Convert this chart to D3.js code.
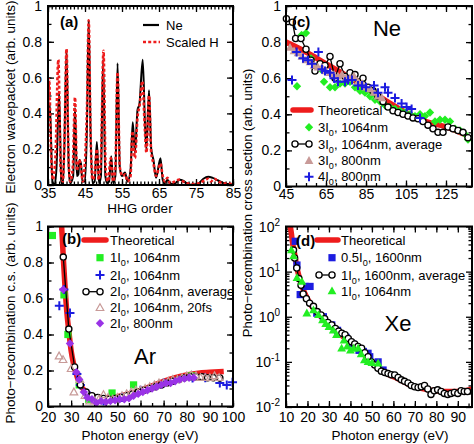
<!DOCTYPE html>
<html><head><meta charset="utf-8">
<script src="https://cdn.jsdelivr.net/npm/d3@7"></script>
<style>body{margin:0;background:#fff}</style>
</head><body>
<svg id="c" width="474" height="444"></svg>
<script>
// ---------------- DATA ----------------
// Panel (a): electron wavepacket vs HHG order
const aNe = [[35,0.35],[35.5,0.45],[36.2,0.02],[36.8,0.0],[37.3,0.1],[38,0.52],[38.6,0.02],[39,0.0],[39.4,0.2],[40,0.75],[40.6,0.1],[41,0.01],[41.8,0.05],[42.3,0.43],[42.8,0.05],[43.2,0.06],[43.5,0.14],[43.9,0.12],[44.3,0.02],[45,0.02],[45.5,0.3],[46,0.92],[46.5,0.3],[47,0.01],[47.6,0.02],[48.2,0.24],[48.8,0.01],[49.3,0.05],[49.9,0.70],[50.5,0.05],[51,0.01],[51.5,0.02],[52.1,0.16],[52.6,0.01],[53.2,0.05],[53.8,0.68],[54.4,0.1],[55,0.05],[55.8,0.07],[56.5,0.02],[57.3,0.08],[57.9,0.35],[58.5,0.18],[59.2,0.42],[59.7,0.45],[60.6,0.70],[61.2,0.35],[61.6,0.2],[62.3,0.53],[62.9,0.2],[63.5,0.14],[64.2,0.04],[65.4,0.15],[66,0.03],[66.6,0.01],[67.3,0.03],[68,0.005],[69,0.005],[70.6,0.03],[71.5,0.025],[72.5,0.01],[73.5,0.002],[75.5,0.005],[77,0.035],[78.3,0.046],[79.5,0.04],[81,0.025],[82.5,0.01],[84,0.005],[85,0.002]];
const aH = [[35,0.4],[35.3,0.59],[35.8,0.2],[36.3,0.03],[37,0.15],[37.8,0.7],[38.4,0.1],[39,0.02],[39.5,0.3],[40,0.76],[40.5,0.2],[41,0.02],[41.7,0.1],[42.3,0.49],[42.8,0.08],[43.4,0.14],[43.9,0.1],[44.4,0.02],[45.5,0.4],[46,0.92],[46.5,0.3],[47,0.03],[47.5,0.05],[48.2,0.2],[48.7,0.03],[49.3,0.15],[50,0.75],[50.6,0.08],[51.2,0.02],[52,0.15],[52.6,0.02],[53.2,0.1],[53.8,0.63],[54.4,0.1],[55.2,0.05],[55.9,0.06],[56.5,0.02],[57.3,0.05],[57.8,0.3],[58.5,0.15],[59.2,0.38],[59.8,0.45],[60.5,0.58],[61.2,0.3],[61.6,0.18],[62.3,0.5],[62.9,0.18],[63.5,0.12],[64.2,0.05],[65.4,0.12],[66,0.05],[66.6,0.02],[67.3,0.04],[68,0.01],[70.6,0.03],[71.5,0.02],[72.5,0.01],[74,0.005],[76,0.01],[77.5,0.03],[78.3,0.035],[79,0.02],[80,0.035],[81,0.02],[82.5,0.01],[85,0.005]];
const aXTicks = [35,45,55,65,75,85];
const aYTicks = [0,0.2,0.4,0.6,0.8,1];

// Panel (c): Ne cross section
const cTheo = [[45,0.80],[55,0.745],[65,0.68],[75,0.615],[85,0.545],[95,0.475],[105,0.41],[115,0.36],[125,0.33],[135,0.285]];
const cGreen = [[50.5,0.555],[52.8,0.84],[55,0.85],[57.5,0.71],[60,0.66],[62.5,0.65],[64,0.58],[67,0.55],[69.5,0.55],[72,0.57],[74.5,0.57],[77,0.58],[79.5,0.55],[82,0.53],[84.5,0.52],[87,0.50],[89.5,0.48],[92,0.47],[94.5,0.45],[97,0.44],[99.5,0.43],[102,0.42],[104.5,0.41],[107,0.40],[109.5,0.39],[112,0.40],[114.5,0.39],[117,0.41],[119.5,0.36],[122,0.37],[124.5,0.37],[127,0.36],[129.5,0.32],[132,0.31],[134.5,0.29],[136,0.26]];
const cAvg = [[45.2,0.93],[48.2,0.91],[49.8,0.82],[52.5,0.82],[55,0.76],[57.5,0.70],[59.5,0.64],[62,0.68],[64.5,0.67],[67,0.72],[69.5,0.60],[72,0.68],[74.5,0.61],[77,0.63],[79.5,0.62],[81.5,0.58],[83.5,0.60],[86,0.55],[88.5,0.53],[91,0.50],[93.5,0.47],[96,0.44],[98.5,0.42],[101,0.41],[103.5,0.40],[106,0.39],[108.5,0.38],[111,0.375],[113.5,0.36],[116,0.34],[118.5,0.32],[121,0.30],[123.5,0.30],[126,0.33],[128.5,0.32],[131,0.31],[133.5,0.30],[136,0.27]];
const cPink = [[47,0.77],[49,0.75],[51,0.74],[53,0.72],[55,0.70],[57,0.69],[59,0.67],[61,0.66],[63,0.66],[65,0.64],[67,0.63],[69,0.62],[71,0.61],[73,0.62],[75,0.60],[77,0.60],[79,0.61],[81,0.58],[83,0.57],[85,0.55],[87,0.54],[89,0.52],[91,0.50],[93,0.49]];
const cBlue = [[48,0.59],[50.3,0.745],[53.5,0.71],[56,0.70],[58,0.68],[61.2,0.745],[63,0.65],[64.5,0.64],[67,0.63],[69,0.60],[71,0.58],[74.5,0.58],[76,0.59],[78,0.59],[81,0.56],[83,0.56],[85,0.55],[89,0.56],[91,0.52],[94.5,0.55],[96,0.52],[99.5,0.49],[102.8,0.46],[105.3,0.44],[107.8,0.43],[112,0.38]];
const cXTicks = [45,65,85,105,125];
const cYTicks = [0,0.2,0.4,0.6,0.8,1];

// Panel (b): Ar
const bTheo = [[25.8,1.02],[26.2,0.93],[26.6,0.83],[27.2,0.70],[27.8,0.58],[28.4,0.49],[29,0.42],[30,0.31],[31,0.24],[32,0.19],[33,0.15],[34,0.12],[36,0.085],[38,0.065],[40,0.055],[43,0.048],[46,0.048],[50,0.055],[55,0.07],[60,0.09],[65,0.115],[70,0.14],[75,0.16],[80,0.175],[85,0.185],[90,0.19],[96,0.195]];
const bGreen = [[21.9,0.95],[26.9,0.62],[28.6,0.40],[33.5,0.12],[37.6,0.04],[47.7,0.075],[57,0.12],[82,0.17]];
const bBlue = [[24.9,0.56],[26.9,0.65],[29.5,0.52],[32.5,0.18],[34,0.12],[38,0.06],[44,0.03],[52,0.05],[60,0.09],[70,0.13],[82.5,0.158],[88,0.16],[94.3,0.13],[97.3,0.12],[99.8,0.135]];
const bAvg = [[26.6,0.83],[29,0.43],[31.5,0.22],[34,0.12],[36.5,0.08],[39,0.06],[41.5,0.05],[44,0.045],[46.5,0.04],[49,0.045],[51.5,0.05],[54,0.06],[56.5,0.07],[59,0.08],[61.5,0.09],[64,0.10],[66.5,0.11],[69,0.12],[71.5,0.13],[74,0.14],[76.5,0.15],[79,0.16],[81.5,0.165],[84,0.165],[86.5,0.165],[89,0.16],[91.5,0.16],[94.3,0.158]];
const bPink = [[24.8,0.28],[26.5,0.26],[30,0.21],[31.2,0.08],[33.8,0.15],[36,0.06],[38,0.03],[40,0.03],[42,0.04],[44,0.065],[46,0.05],[48,0.04],[50,0.05],[52,0.06],[54,0.07],[56,0.08],[58,0.09],[60,0.09],[62,0.10],[64,0.11],[66,0.12],[68,0.13],[70,0.13],[72,0.14],[74,0.15],[76,0.15],[78,0.16],[80,0.17],[82,0.175],[84,0.17],[86,0.16],[88,0.16],[90,0.16],[92,0.17],[94,0.16]];
const bPurple = [[26.6,0.65],[29.5,0.35],[32.3,0.19],[33.5,0.15],[35.5,0.08],[37,0.05],[39,0.04],[41,0.02],[43,0.03],[45,0.025],[47,0.03],[49,0.035],[51,0.04],[53,0.04],[55,0.045],[57,0.06],[59,0.07],[61,0.08],[63,0.09],[65,0.10],[67,0.11],[69,0.12],[71,0.13],[73,0.13],[75,0.14],[77,0.15],[79,0.155],[81,0.16],[83,0.16]];
const bXTicks = [20,30,40,50,60,70,80,90,100];
const bYTicks = [0,0.2,0.4,0.6,0.8,1];

// Panel (d): Xe (log scale)
const dTheo = [[12,100],[12.5,70],[13,45],[14,25],[15,13],[16,8],[17,5.5],[18,4],[20,2.5],[22,1.7],[25,1.15],[28,0.85],[31,0.62],[34,0.45],[37,0.35],[40,0.27],[43,0.2],[46,0.15],[49,0.11],[52,0.08],[55,0.062],[58,0.052],[61,0.045],[64,0.038],[67,0.032],[70,0.028],[73,0.026],[76,0.024],[80,0.023],[85,0.022],[90,0.022],[96.6,0.025]];
const dBlue = [[14.3,47],[15.1,14],[16.6,3.1],[18.9,4.7],[21.2,4.7],[24.3,1.2],[27.4,1.0],[31.3,0.66],[34,0.5],[38,0.35],[41,0.25],[44,0.18],[46,0.17],[48.2,0.155],[49,0.13],[52.9,0.1],[55.2,0.066]];
const dAvg = [[13.5,30],[14,20],[15,12],[16,7],[17,5],[18,3.2],[19.5,2.5],[21,2],[22.8,1.7],[24.5,1.3],[26.3,1.1],[28,0.9],[29.5,0.75],[31.3,0.66],[33,0.55],[34.5,0.48],[36,0.43],[37.5,0.4],[39,0.33],[40.5,0.28],[42,0.25],[43.5,0.22],[45.2,0.2],[46.7,0.16],[48.2,0.13],[49.8,0.10],[51.3,0.085],[52.8,0.072],[54.4,0.062],[56,0.058],[57.5,0.055],[59,0.052],[60.6,0.051],[62.2,0.045],[63.7,0.04],[65.2,0.037],[66.8,0.034],[68.3,0.03],[69.9,0.028],[71.5,0.027],[73,0.028],[74.5,0.03],[76,0.025],[77.5,0.019],[79,0.023],[80.6,0.024],[82.2,0.022],[83.7,0.02],[85.3,0.019],[86.8,0.02],[88.4,0.021],[90,0.02],[91.5,0.023],[93,0.022],[94.5,0.022]];
const dGreen = [[12.5,30],[13.5,22],[15.1,7.3],[17.4,6],[19.7,1.2],[22.8,1.4],[25.1,1.1],[27,0.85],[28.5,0.7],[30,0.6],[32,0.5],[33.5,0.4],[35.9,0.2],[37,0.3],[38.5,0.22],[40,0.18],[41.5,0.2],[43.6,0.2],[45,0.15],[46.5,0.11],[48.2,0.1],[50,0.095],[52.9,0.093]];
const dXTicks = [10,20,30,40,50,60,70,80,90];
const dYExp = [-2,-1,0,1,2];

// ---------------- DRAWING ----------------
const FONT = '"Liberation Sans", Arial, Helvetica, sans-serif';
const RED = "#ee1c1c", GREEN = "#22ee22", BLUE = "#1c1ce0", PINK = "#c89a98", PURPLE = "#9a33e6";
const svg = d3.select("#c").attr("font-family", FONT);
const defs = svg.append("defs");

function panel(id, box, xs, ys) {
  defs.append("clipPath").attr("id", "clip-" + id).append("rect")
    .attr("x", box.x0).attr("y", box.y0).attr("width", box.x1 - box.x0).attr("height", box.y1 - box.y0);
  const g = svg.append("g");
  return {g, box, xs, ys, clip: "url(#clip-" + id + ")"};
}

function ax(p, gen, tr, vals, size, fmt, pad) {
  const a = gen.tickValues(vals).tickSize(-size).tickSizeOuter(0).tickPadding(pad || 5)
    .tickFormat(fmt || (() => ""));
  const s = p.g.append("g").attr("transform", tr).call(a);
  s.select(".domain").remove();
  s.selectAll("line").attr("stroke", "#000").attr("stroke-width", 1.3);
  s.selectAll("text").attr("font-size", 14).attr("font-family", FONT).attr("fill", "#000");
  return s;
}

function frameAxes(p, o) {
  const {box, xs, ys} = p;
  const fmt = o.fmt || (d => d3.format("")(d));
  ax(p, d3.axisBottom(xs), `translate(0,${box.y1})`, o.xMaj, 6, o.noXLab ? null : fmt, o.xPad);
  ax(p, d3.axisBottom(xs), `translate(0,${box.y1})`, o.xMin, 3.5);
  ax(p, d3.axisTop(xs), `translate(0,${box.y0})`, o.xMaj, 6);
  ax(p, d3.axisTop(xs), `translate(0,${box.y0})`, o.xMin, 3.5);
  ax(p, d3.axisLeft(ys), `translate(${box.x0},0)`, o.yMaj, 6, o.noYLab ? null : fmt, o.yPad);
  ax(p, d3.axisLeft(ys), `translate(${box.x0},0)`, o.yMin, 3.5);
  ax(p, d3.axisRight(ys), `translate(${box.x1},0)`, o.yMaj, 6);
  ax(p, d3.axisRight(ys), `translate(${box.x1},0)`, o.yMin, 3.5);
}

function frameRect(p) {
  const {box} = p;
  p.g.append("rect").attr("x", box.x0).attr("y", box.y0)
    .attr("width", box.x1 - box.x0).attr("height", box.y1 - box.y0)
    .attr("fill", "none").attr("stroke", "#000").attr("stroke-width", 2);
}

function line(p, data, stroke, width, dash, curve) {
  const gen = d3.line().x(d => p.xs(d[0])).y(d => p.ys(d[1])).curve(curve || d3.curveLinear);
  const el = p.g.append("path").attr("d", gen(data)).attr("fill", "none")
    .attr("stroke", stroke).attr("stroke-width", width).attr("clip-path", p.clip)
    .attr("stroke-linejoin", "round");
  if (dash) el.attr("stroke-dasharray", dash);
  return el;
}

// marker shapes
function sym(g, type, x, y, color) {
  const s = 4.2;
  if (type === "circle") return g.append("circle").attr("cx", x).attr("cy", y).attr("r", 3.1)
    .attr("fill", "#fff").attr("stroke", "#000").attr("stroke-width", 1.3);
  if (type === "square") return g.append("rect").attr("x", x - 3.6).attr("y", y - 3.6).attr("width", 7.2).attr("height", 7.2).attr("fill", color);
  if (type === "diamond") return g.append("path").attr("d", `M${x},${y - s}L${x + s},${y}L${x},${y + s}L${x - s},${y}Z`).attr("fill", color);
  if (type === "tri") return g.append("path").attr("d", `M${x},${y - 4.6}L${x + 4.4},${y + 3.2}L${x - 4.4},${y + 3.2}Z`).attr("fill", color);
  if (type === "otri") return g.append("path").attr("d", `M${x},${y - 4}L${x + 3.8},${y + 2.8}L${x - 3.8},${y + 2.8}Z`).attr("fill", "none").attr("stroke", color).attr("stroke-width", 1.2);
  if (type === "plus") return g.append("path").attr("d", `M${x - 4.5},${y}H${x + 4.5}M${x},${y - 4.5}V${y + 4.5}`).attr("stroke", color).attr("stroke-width", 2);
}
function points(p, data, type, color) {
  const g = p.g.append("g");
  data.forEach(d => sym(g, type, p.xs(d[0]), p.ys(d[1]), color));
}

function label(g, x, y, str, size, anchor) {
  // str may contain "_0" for subscript zero
  const t = g.append("text").attr("x", x).attr("y", y).attr("font-size", size)
    .attr("text-anchor", anchor || "start").attr("fill", "#000");
  const parts = str.split("_0");
  parts.forEach((pt, i) => {
    if (i > 0) {
      t.append("tspan").attr("font-size", size * 0.7).attr("dy", 4).text("0");
      t.append("tspan").attr("dy", -4).text(pt);
    } else t.append("tspan").text(pt);
  });
  return t;
}

function legend(p, items, lx0, lx1, sx, tx, rows) {
  items.forEach((it, i) => {
    const y = rows[i];
    if (it.type === "theo") {
      p.g.append("line").attr("x1", lx0).attr("x2", lx1).attr("y1", y).attr("y2", y)
        .attr("stroke", RED).attr("stroke-width", 5.5).attr("stroke-linecap", "round");
    } else if (it.type === "avg") {
      p.g.append("line").attr("x1", lx0 + 2).attr("x2", sx).attr("y1", y).attr("y2", y)
        .attr("stroke", "#000").attr("stroke-width", 1.3);
      sym(p.g, "circle", lx0 + 2, y);
      sym(p.g, "circle", sx, y);
    } else sym(p.g, it.type, sx, y, it.color);
    label(p.g, tx, y + 4.6, it.text, 13);
  });
}

// ---------- Panel (a) ----------
{
  const box = {x0: 48, x1: 233, y0: 6, y1: 185};
  const xs = d3.scaleLinear().domain([35, 85]).range([box.x0, box.x1]);
  const ys = d3.scaleLinear().domain([0, 1]).range([box.y1, box.y0]);
  const p = panel("a", box, xs, ys);
  frameAxes(p, {xMaj: aXTicks, xMin: d3.range(35, 86, 1), yMaj: aYTicks, yMin: d3.range(0, 1.01, 0.1),
    xPad: 3, yPad: 6, fmt: d => d3.format("")(+d.toFixed(2))});
  line(p, aNe, "#000", 2, null, d3.curveMonotoneX);
  line(p, aH, RED, 2.6, "3,2.2", d3.curveMonotoneX);
  frameRect(p);
  p.g.append("text").attr("x", 60).attr("y", 27).attr("font-size", 15).attr("font-weight", "bold").text("(a)");
  p.g.append("line").attr("x1", 143).attr("x2", 159).attr("y1", 25).attr("y2", 25).attr("stroke", "#000").attr("stroke-width", 2.2);
  p.g.append("line").attr("x1", 143).attr("x2", 160).attr("y1", 42).attr("y2", 42).attr("stroke", RED).attr("stroke-width", 2.6).attr("stroke-dasharray", "3,2.2");
  label(p.g, 166, 29.6, "Ne", 13);
  label(p.g, 166, 46.6, "Scaled H", 13);
  svg.append("text").attr("x", 140).attr("y", 213).attr("font-size", 13.5).attr("text-anchor", "middle").text("HHG order");
  svg.append("text").attr("transform", "translate(15,97) rotate(-90)").attr("font-size", 13.5).attr("text-anchor", "middle").text("Electron wavepacket (arb. units)");
}

// ---------- Panel (c) ----------
{
  const box = {x0: 286, x1: 472, y0: 6, y1: 186.5};
  const xs = d3.scaleLinear().domain([45, 138]).range([box.x0, box.x1]);
  const ys = d3.scaleLinear().domain([0, 1]).range([box.y1, box.y0]);
  const p = panel("c", box, xs, ys);
  frameAxes(p, {xMaj: cXTicks, xMin: d3.range(45, 138, 5), yMaj: cYTicks, yMin: d3.range(0, 1.01, 0.1),
    xPad: 3, yPad: 5, fmt: d => d3.format("")(+d.toFixed(2))});
  line(p, cTheo, RED, 5.5, null, d3.curveMonotoneX);
  points(p, cGreen, "diamond", GREEN);
  line(p, cAvg, "#000", 1.3);
  points(p, cAvg, "circle");
  points(p, cPink, "tri", PINK);
  points(p, cBlue, "plus", BLUE);
  frameRect(p);
  p.g.append("text").attr("x", 292).attr("y", 27).attr("font-size", 15).attr("font-weight", "bold").text("(c)");
  p.g.append("text").attr("x", 387).attr("y", 36).attr("font-size", 22).attr("text-anchor", "middle").text("Ne");
  legend(p, [
    {type: "theo", text: "Theoretical"},
    {type: "diamond", color: GREEN, text: "3I_0, 1064nm"},
    {type: "avg", text: "3I_0, 1064nm, average"},
    {type: "tri", color: PINK, text: "3I_0, 800nm"},
    {type: "plus", color: BLUE, text: "4I_0, 800nm"}
  ], 293, 311, 309, 318, [110, 127.3, 144, 160.7, 176.7]);
}

// ---------- Panel (b) ----------
{
  const box = {x0: 48, x1: 233, y0: 226.5, y1: 406.5};
  const xs = d3.scaleLinear().domain([20, 100]).range([box.x0, box.x1]);
  const ys = d3.scaleLinear().domain([0, 1]).range([box.y1, box.y0]);
  const p = panel("b", box, xs, ys);
  frameAxes(p, {xMaj: bXTicks, xMin: d3.range(20, 101, 5), yMaj: bYTicks, yMin: d3.range(0, 1.01, 0.1),
    xPad: 6, yPad: 5, fmt: d => d3.format("")(+d.toFixed(2))});
  line(p, bTheo, RED, 5.5, null, d3.curveMonotoneX);
  points(p, bGreen, "square", GREEN);
  points(p, bBlue, "plus", BLUE);
  line(p, bAvg, "#000", 1.3);
  points(p, bAvg, "circle");
  points(p, bPink, "otri", PINK);
  points(p, bPurple, "diamond", PURPLE);
  frameRect(p);
  p.g.append("text").attr("x", 62).attr("y", 243.5).attr("font-size", 15).attr("font-weight", "bold").text("(b)");
  p.g.append("text").attr("x", 145).attr("y", 364).attr("font-size", 22).attr("text-anchor", "middle").text("Ar");
  legend(p, [
    {type: "theo", text: "Theoretical"},
    {type: "square", color: GREEN, text: "1I_0, 1064nm"},
    {type: "plus", color: BLUE, text: "2I_0, 1064nm"},
    {type: "avg", text: "2I_0, 1064nm, average"},
    {type: "otri", color: PINK, text: "2I_0, 1064nm, 20fs"},
    {type: "diamond", color: PURPLE, text: "2I_0, 800nm"}
  ], 84, 106, 100, 110, [240, 257.7, 275, 291.7, 307.7, 323.3]);
  svg.append("text").attr("x", 140).attr("y", 440).attr("font-size", 13.5).attr("text-anchor", "middle").text("Photon energy (eV)");
  svg.append("text").attr("transform", "translate(15,313) rotate(-90)").attr("font-size", 13.5).attr("text-anchor", "middle").text("Photo\u2212recombination c.s. (arb. units)");
}

// ---------- Panel (d) ----------
{
  const box = {x0: 286, x1: 472, y0: 226.5, y1: 407};
  const xs = d3.scaleLinear().domain([10, 96.6]).range([box.x0, box.x1]);
  const ys = d3.scaleLog().domain([1e-2, 1e2]).range([box.y1, box.y0]);
  const p = panel("d", box, xs, ys);
  const majY = dYExp.map(e => Math.pow(10, e));
  const minY = [];
  dYExp.slice(0, -1).forEach(e => { for (let k = 2; k <= 9; k++) minY.push(k * Math.pow(10, e)); });
  frameAxes(p, {xMaj: dXTicks, xMin: d3.range(10, 96, 5), yMaj: majY, yMin: minY,
    xPad: 5, noYLab: true, fmt: d => d3.format("")(d)});
  // log labels with superscripts
  dYExp.forEach(e => {
    const t = p.g.append("text").attr("x", box.x0 - 6).attr("y", ys(Math.pow(10, e)) + 5)
      .attr("font-size", 14).attr("text-anchor", "end");
    t.append("tspan").text("10");
    t.append("tspan").attr("font-size", 10).attr("dy", -6).text(e < 0 ? "-" + (-e) : String(e));
  });
  line(p, dTheo, RED, 5.5, null, d3.curveMonotoneX);
  points(p, dBlue, "square", BLUE);
  line(p, dAvg, "#000", 1.3);
  points(p, dAvg, "circle");
  points(p, dGreen, "tri", GREEN);
  frameRect(p);
  p.g.append("text").attr("x", 296).attr("y", 245.5).attr("font-size", 15).attr("font-weight", "bold").text("(d)");
  p.g.append("text").attr("x", 398).attr("y", 331).attr("font-size", 22).attr("text-anchor", "middle").text("Xe");
  legend(p, [
    {type: "theo", text: "Theoretical"},
    {type: "square", color: BLUE, text: "0.5I_0, 1600nm"},
    {type: "avg", text: "1I_0, 1600nm, average"},
    {type: "tri", color: GREEN, text: "1I_0, 1064nm"}
  ], 317, 338, 332, 341, [240, 257.7, 275, 291]);
  svg.append("text").attr("x", 390).attr("y", 440).attr("font-size", 13.5).attr("text-anchor", "middle").text("Photon energy (eV)");
  svg.append("text").attr("transform", "translate(252,203) rotate(-90)").attr("font-size", 13).attr("text-anchor", "middle").text("Photo\u2212recombination cross section (arb. units)");
}
</script>
</body></html>
